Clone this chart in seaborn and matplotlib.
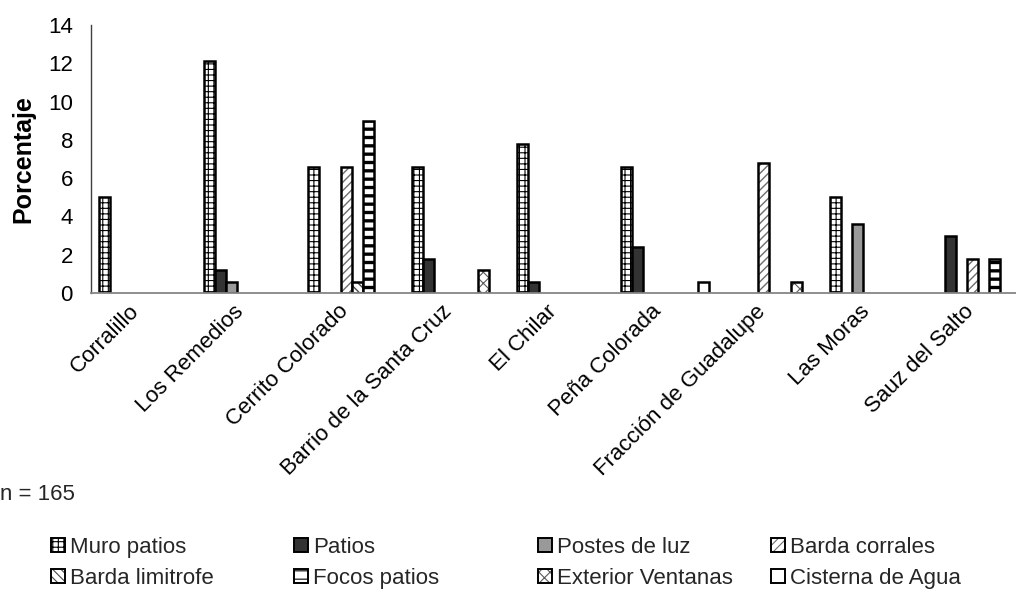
import numpy as np
import pandas as pd
import matplotlib
matplotlib.use("Agg")
import matplotlib.pyplot as plt
import matplotlib.colors as mcolors
from matplotlib.patches import Patch
from matplotlib.transforms import ScaledTranslation
import seaborn as sns

# Communities (x categories)
comunidades = ["Corralillo", "Los Remedios", "Cerrito Colorado",
               "Barrio de la Santa Cruz", "El Chilar", "Peña Colorada",
               "Fracción de Guadalupe", "Las Moras", "Sauz del Salto"]

# Damage types (series)
tipos = ["Muro patios", "Patios", "Postes de luz", "Barda corrales",
         "Barda limitrofe", "Focos patios", "Exterior Ventanas",
         "Cisterna de Agua"]

nan = np.nan
muro_patios       = [5.0, 12.1, 6.6, 6.6, 7.8, 6.6, nan, 5.0, nan]
patios            = [nan, 1.2, nan, 1.8, 0.6, 2.4, nan, nan, 3.0]
postes_luz        = [nan, 0.6, nan, nan, nan, nan, nan, 3.6, nan]
barda_corrales    = [nan, nan, 6.6, nan, nan, nan, 6.8, nan, 1.8]
barda_limitrofe   = [nan, nan, 0.6, nan, nan, nan, nan, nan, nan]
focos_patios      = [nan, nan, 9.0, nan, nan, nan, nan, nan, 1.8]
exterior_ventanas = [nan, nan, nan, 1.2, nan, nan, 0.6, nan, nan]
cisterna_agua     = [nan, nan, nan, nan, nan, 0.6, nan, nan, nan]

y_ticks = [0, 2, 4, 6, 8, 10, 12, 14]
nota = "n = 165"

series = [muro_patios, patios, postes_luz, barda_corrales, barda_limitrofe,
          focos_patios, exterior_ventanas, cisterna_agua]

rows = []
for tipo, valores in zip(tipos, series):
    for com, v in zip(comunidades, valores):
        rows.append({"Comunidad": com, "Tipo": tipo, "Porcentaje": v})
df = pd.DataFrame(rows).dropna()

# Fill / hatch style for each damage type
estilos = {
    "Muro patios":       dict(fc="white",   hatch="+++",      hc="black",   hlw=0.8),
    "Patios":            dict(fc="#333333", hatch=None,       hc="black",   hlw=0.8),
    "Postes de luz":     dict(fc="#999999", hatch=None,       hc="black",   hlw=0.8),
    "Barda corrales":    dict(fc="white",   hatch="////",     hc="#6e6e6e", hlw=1.0),
    "Barda limitrofe":   dict(fc="white",   hatch="\\\\\\\\", hc="#4a4a4a", hlw=1.0),
    "Focos patios":      dict(fc="white",   hatch="--",       hc="black",   hlw=2.4),
    "Exterior Ventanas": dict(fc="white",   hatch="xxx",      hc="#5a5a5a", hlw=0.8),
    "Cisterna de Agua":  dict(fc="white",   hatch=None,       hc="black",   hlw=0.8),
}


def aplicar_estilo(p, st, lw):
    p.set_facecolor(st["fc"])
    p.set_edgecolor("black")
    p.set_linewidth(lw)
    if st["hatch"]:
        p.set_hatch(st["hatch"])
    if hasattr(p, "set_hatchcolor"):
        p.set_hatchcolor(st["hc"])
    else:
        p._hatch_color = mcolors.to_rgba(st["hc"])
    if hasattr(p, "set_hatch_linewidth"):
        p.set_hatch_linewidth(st["hlw"])
    else:
        p._hatch_linewidth = st["hlw"]


sns.set_theme(style="white")
plt.rcParams["font.family"] = ["Liberation Sans", "DejaVu Sans"]
plt.rcParams["hatch.linewidth"] = 0.8

FS = 16
W, H = 1016, 594
fig = plt.figure(figsize=(W / 100, H / 100), dpi=100)
ax = fig.add_axes([91 / W, (H - 293) / H, (1030 - 91) / W, (293 - 25) / H])

sns.barplot(data=df, x="Comunidad", y="Porcentaje", hue="Tipo",
            order=comunidades, hue_order=tipos, width=0.843, gap=0,
            errorbar=None, legend=False, saturation=1, ax=ax)

for cont, tipo in zip(ax.containers, tipos):
    for bar in cont:
        aplicar_estilo(bar, estilos[tipo], 1.8)

ax.set_xlim(-0.5, len(comunidades) - 0.5)
ax.set_ylim(0, 14)
ax.set_yticks(y_ticks)
ax.set_yticklabels([str(t) for t in y_ticks], fontsize=FS, color="black")
ax.set_xticks(range(len(comunidades)))
ax.set_xticklabels(comunidades, rotation=45, ha="right", va="center",
                   rotation_mode="anchor", fontsize=FS, color="black")
ax.tick_params(axis="x", length=0, pad=11)
ax.tick_params(axis="y", length=0, pad=13)
desplazamiento = ScaledTranslation(-7 / 100, 0, fig.dpi_scale_trans)
for lbl in ax.get_xticklabels():
    lbl.set_transform(lbl.get_transform() + desplazamiento)
ax.set_xlabel("")
ax.set_ylabel("Porcentaje", fontsize=18, fontweight="bold", color="black")
ax.yaxis.set_label_coords(-0.059, 0.5)

for s in ("top", "right"):
    ax.spines[s].set_visible(False)
ax.spines["left"].set_color("#404040")
ax.spines["left"].set_linewidth(1.0)
ax.spines["bottom"].set_color("#868686")
ax.spines["bottom"].set_linewidth(1.3)
ax.grid(False)

fig.text(0.0, 1 - 495 / H, nota, fontsize=FS, va="center", ha="left")

# Legend: four columns of two entries each
handles = []
for tipo in tipos:
    h = Patch(label=tipo)
    aplicar_estilo(h, estilos[tipo], 1.4)
    handles.append(h)

col_x = [51, 294, 538, 771]
for c, x in enumerate(col_x):
    pares = [handles[c], handles[c + 4]]
    fig.legend(handles=pares, labels=[h.get_label() for h in pares],
               loc="upper left", bbox_to_anchor=(x / W, 1 - 537 / H),
               frameon=False, fontsize=FS, borderpad=0,
               borderaxespad=0, handlelength=0.62, handleheight=0.62,
               handletextpad=0.25, labelspacing=0.45)

fig.savefig("out.png", dpi=100)
